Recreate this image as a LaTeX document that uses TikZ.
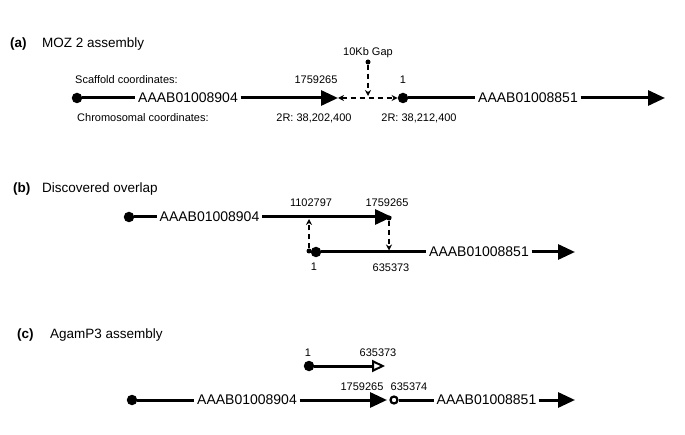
\documentclass[tikz,border=0pt]{standalone}
\usepackage{fontspec}
\setmainfont{Liberation Sans}
\usepackage{tikz}
\usetikzlibrary{arrows.meta,positioning}

\begin{document}
\begin{tikzpicture}[
  x=1pt, y=-1pt,
  ttl/.style={anchor=west, inner sep=0pt, font=\fontsize{13.5}{16}\selectfont},
  tag/.style={anchor=west, inner sep=0pt, font=\bfseries\fontsize{13.5}{16}\selectfont},
  contig/.style={inner sep=2.5pt, font=\fontsize{14}{16}\selectfont},
  num/.style={inner sep=0pt, font=\fontsize{11}{13}\selectfont},
  dot/.style={circle, fill, inner sep=0pt, minimum size=10.5pt},
  pin/.style={circle, fill, inner sep=0pt, minimum size=5pt},
  hollow/.style={circle, draw, line width=2.2pt, inner sep=0pt, minimum size=7pt},
  seg/.style={line width=3pt},
  gap/.style={line width=1.4pt, dash pattern=on 5.5pt off 3.5pt},
  >={Triangle[length=17pt, width=15pt]}
]
\useasboundingbox (0,0) rectangle (685,435);

% (a)
\node[tag] (taga) at (10,44) {(a)};
\node[ttl] (ttla) at (42,44) {MOZ 2 assembly};
\node[num, anchor=west] (scaf) at (75,80) {Scaffold coordinates:};
\node[num, anchor=west] (chrom) at (77,118) {Chromosomal coordinates:};
\node[dot] (adot1) at (77,98) {};
\node[contig] (actg1) at (188,98) {AAAB01008904};
\coordinate (aend1) at (338,98);
\node[dot] (adot2) at (403,98) {};
\node[contig] (actg2) at (528,98) {AAAB01008851};
\coordinate (aend2) at (665,98);
\node[num] (gaplbl) at (368,53) {10Kb Gap};
\node[pin] (gappin) at (368,62) {};
\coordinate (gapmid) at (368,96);
\node[num] (ascaf1) at (316,80) {1759265};
\node[num] (ascaf2) at (403,80) {1};
\node[num] (achr1) at (314,118) {2R: 38,202,400};
\node[num] (achr2) at (419,118) {2R: 38,212,400};

\draw[seg] (adot1) -- (actg1);
\draw[seg, ->] (actg1) -- (aend1);
\draw[seg] (adot2) -- (actg2);
\draw[seg, ->] (actg2) -- (aend2);
\draw[gap, {Stealth[length=6pt, width=6pt]}-{Stealth[length=6pt, width=6pt]}] (aend1) -- (adot2);
\draw[gap, -{Stealth[length=6pt, width=6pt]}] (gappin) -- (gapmid);

% (b)
\node[tag] (tagb) at (13,189) {(b)};
\node[ttl] (ttlb) at (42,189) {Discovered overlap};
\node[dot] (bdot1) at (129,217) {};
\node[contig] (bctg1) at (209.5,217) {AAAB01008904};
\coordinate (bend1) at (392,217);
\node[dot] (bdot2) at (316,252) {};
\node[contig] (bctg2) at (479,252) {AAAB01008851};
\coordinate (bend2) at (575,252);
\node[pin] (bpin1) at (309,251) {};
\coordinate (bup) at (309,219);
\node[pin] (bpin2) at (389,218) {};
\coordinate (bdown) at (389,250.5);
\node[num] (bnum1) at (311,203) {1102797};
\node[num] (bnum2) at (387,203) {1759265};
\node[num] (bnum3) at (314,267) {1};
\node[num] (bnum4) at (391,268) {635373};

\draw[seg] (bdot1) -- (bctg1);
\draw[seg, ->] (bctg1) -- (bend1);
\draw[seg] (bdot2) -- (bctg2);
\draw[seg, ->] (bctg2) -- (bend2);
\draw[gap, -{Stealth[length=6pt, width=6pt]}] (bpin1) -- (bup);
\draw[gap, -{Stealth[length=6pt, width=6pt]}] (bpin2) -- (bdown);

% (c)
\node[tag] (tagc) at (17,335) {(c)};
\node[ttl] (ttlc) at (50,335) {AgamP3 assembly};
\node[dot] (cdot0) at (309,366) {};
\coordinate (cend0) at (385,366);
\node[num] (cnum1) at (308,353) {1};
\node[num] (cnum2) at (378,353) {635373};
\node[dot] (cdot1) at (132,400) {};
\node[contig] (cctg1) at (247,400) {AAAB01008904};
\coordinate (cend1) at (387,400);
\node[hollow] (cring) at (394,400) {};
\node[contig] (cctg2) at (486.5,400) {AAAB01008851};
\coordinate (cend2) at (575,400);
\node[num] (cnum3) at (362,387) {1759265};
\node[num] (cnum4) at (409,387) {635374};

\draw[seg, -{Triangle[open, length=13pt, width=12pt, line width=2pt]}] (cdot0) -- (cend0);
\draw[seg] (cdot1) -- (cctg1);
\draw[seg, ->] (cctg1) -- (cend1);
\draw[seg] (cring) -- (cctg2);
\draw[seg, ->] (cctg2) -- (cend2);

\end{tikzpicture}
\end{document}
